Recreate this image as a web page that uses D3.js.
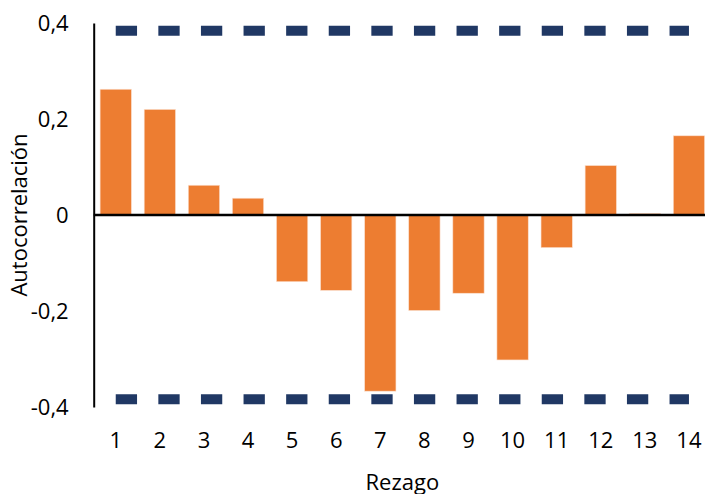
<!DOCTYPE html>
<html>
<head>
<meta charset="utf-8">
<script src="https://cdn.jsdelivr.net/npm/d3@7"></script>
<style>
  body { margin: 0; background: #fff; }
  text { font-family: "Open Sans", sans-serif; fill: #000; }
</style>
</head>
<body>
<div id="chart"></div>
<script>
// Data
const lags = [1, 2, 3, 4, 5, 6, 7, 8, 9, 10, 11, 12, 13, 14];
const acf = [0.262, 0.220, 0.062, 0.035, -0.139, -0.157, -0.367, -0.199, -0.163, -0.302, -0.068, 0.103, 0.003, 0.165];
const upperBound = [0.384, 0.384, 0.384, 0.384, 0.384, 0.384, 0.384, 0.384, 0.384, 0.384, 0.384, 0.384, 0.384, 0.384];
const lowerBound = [-0.384, -0.384, -0.384, -0.384, -0.384, -0.384, -0.384, -0.384, -0.384, -0.384, -0.384, -0.384, -0.384, -0.384];
const yTicks = [-0.4, -0.2, 0, 0.2, 0.4];

const width = 705;
const height = 494;
const fontSize = "22px";

/*******************************/
/*    Append the containers    */
/*******************************/
const svg = d3.select("#chart")
  .append("svg")
    .attr("width", width)
    .attr("height", height)
    .attr("viewBox", [0, 0, width, height]);

// Scales
const xScale = d3.scaleBand()
  .domain(lags)
  .range([93.7, 711])
  .paddingInner(0.29)
  .paddingOuter(0.145);

const yScale = d3.scaleLinear()
  .domain([-0.4, 0.4])
  .range([407, 23]);

const center = d => xScale(d) + xScale.bandwidth() / 2;

// Bars
svg.append("g")
    .attr("class", "bars")
  .selectAll("rect")
  .data(lags)
  .join("rect")
    .attr("x", d => xScale(d))
    .attr("width", xScale.bandwidth())
    .attr("y", (d, i) => yScale(Math.max(0, acf[i])))
    .attr("height", (d, i) => Math.abs(yScale(acf[i]) - yScale(0)))
    .attr("fill", "#ED7D31")
    .attr("stroke", "#fbe0cf")
    .attr("stroke-width", 0.6);

// Confidence bounds (dashed)
const boundLine = d3.line()
  .x(d => center(d[0]))
  .y(d => yScale(d[1]));

[upperBound, lowerBound].forEach(bound => {
  svg.append("path")
    .datum(lags.map((l, i) => [l, bound[i]]))
    .attr("d", boundLine)
    .attr("fill", "none")
    .attr("stroke", "#203864")
    .attr("stroke-width", 10)
    .attr("stroke-dasharray", "21.3,21.3");
});

// Zero line
svg.append("line")
  .attr("x1", xScale.range()[0])
  .attr("x2", width)
  .attr("y1", yScale(0))
  .attr("y2", yScale(0))
  .attr("stroke", "#000")
  .attr("stroke-width", 2.5);

// Y axis
const fmt = d => d === 0 ? "0" : d3.format(".1f")(d).replace("−", "-").replace(".", ",");
const leftAxis = d3.axisLeft(yScale)
  .tickValues(yTicks)
  .tickFormat(fmt)
  .tickSize(0)
  .tickPadding(25);
const yAxis = svg.append("g")
  .attr("transform", `translate(${xScale.range()[0]}, 0)`)
  .call(leftAxis);
yAxis.select(".domain").attr("stroke", "#000").attr("stroke-width", 2);
yAxis.selectAll(".tick text")
  .style("font-size", fontSize)
  .style("font-family", "Open Sans");

// X tick labels
svg.append("g")
  .selectAll("text")
  .data(lags)
  .join("text")
    .attr("x", d => center(d))
    .attr("y", 442)
    .attr("text-anchor", "middle")
    .attr("dominant-baseline", "middle")
    .style("font-size", fontSize)
    .text(d => d);

// Axis titles
svg.append("text")
  .attr("x", (xScale.range()[0] + xScale.range()[1]) / 2)
  .attr("y", 484)
  .attr("text-anchor", "middle")
  .attr("dominant-baseline", "middle")
  .style("font-size", fontSize)
  .text("Rezago");

svg.append("text")
  .attr("transform", `translate(21, 215) rotate(-90)`)
  .attr("text-anchor", "middle")
  .attr("dominant-baseline", "middle")
  .style("font-size", fontSize)
  .text("Autocorrelación");
</script>
</body>
</html>
